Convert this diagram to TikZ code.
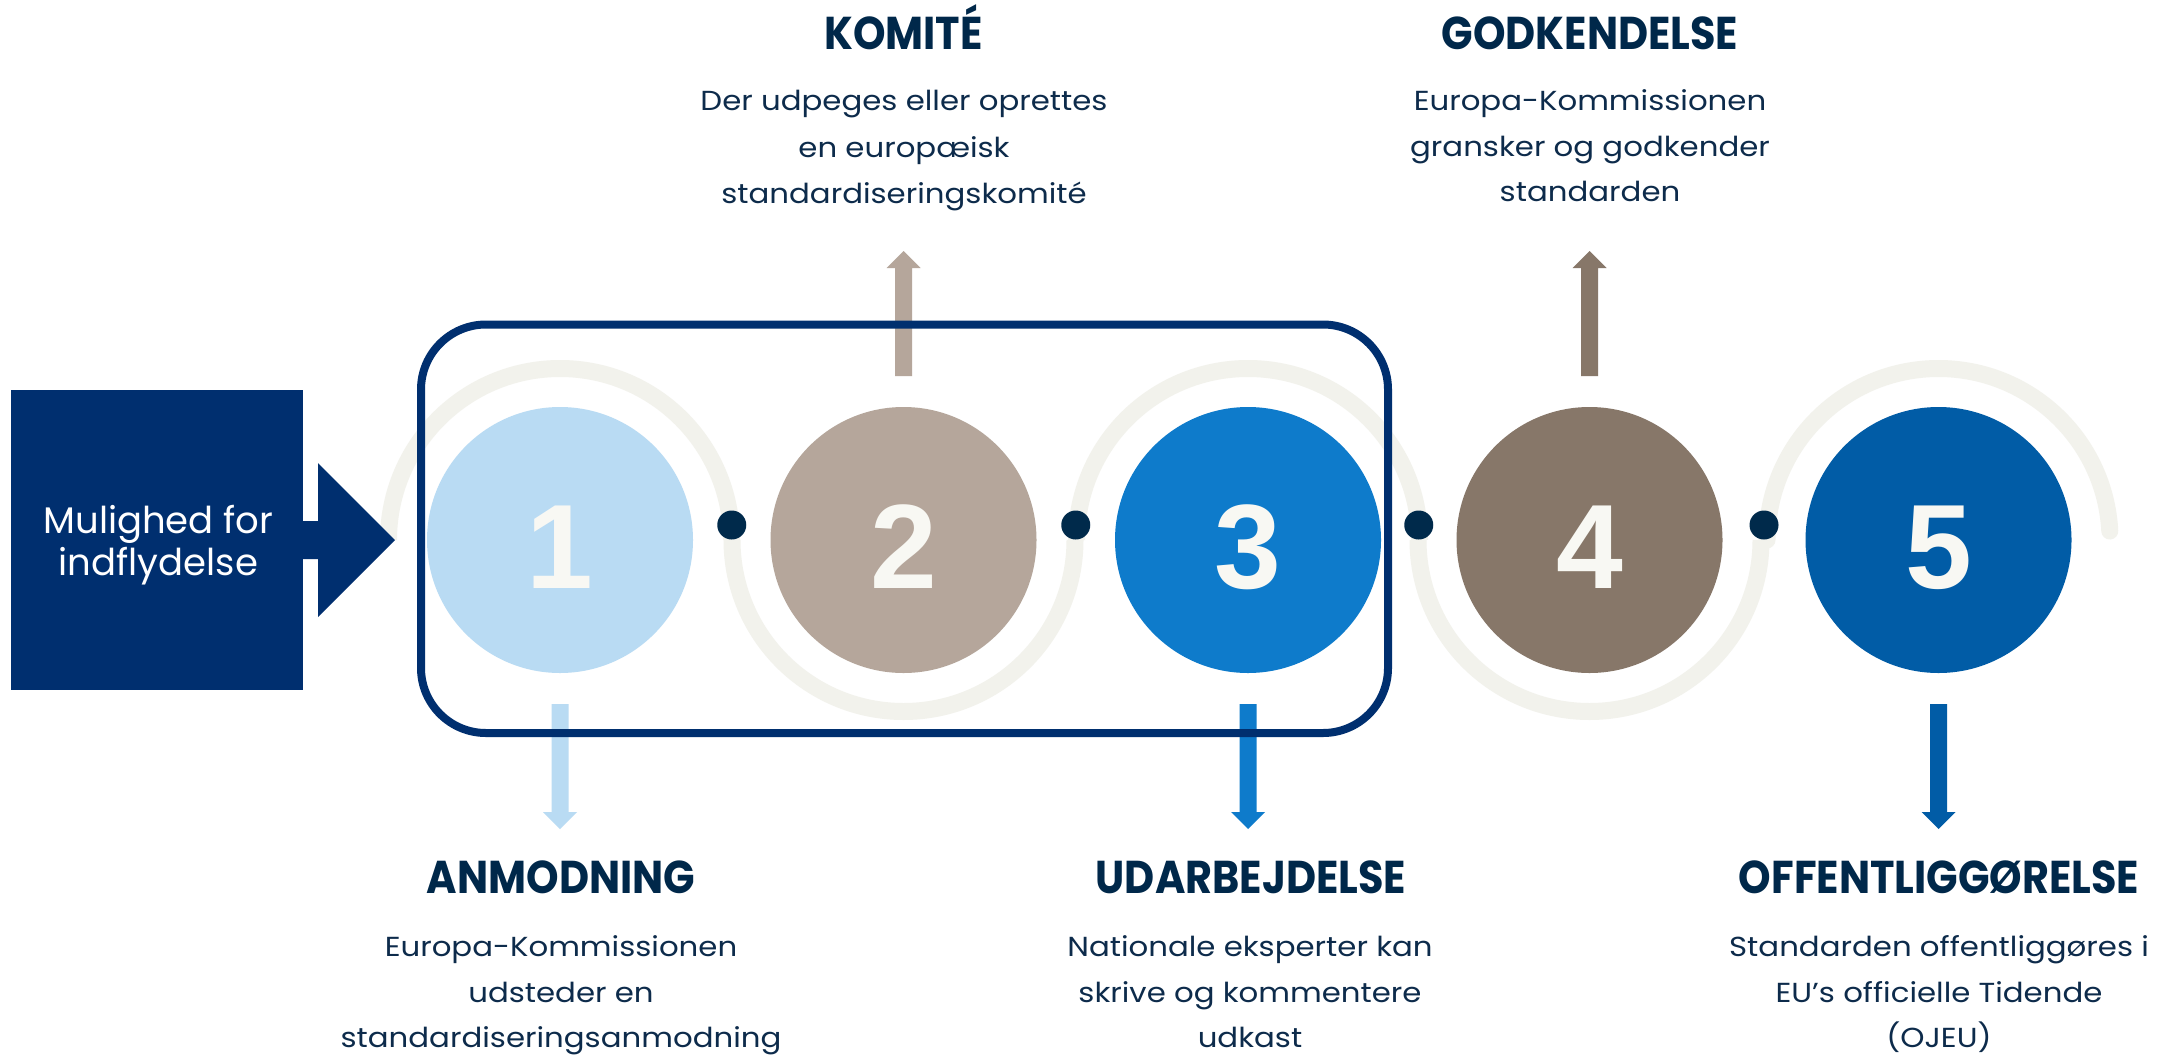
\documentclass[tikz,border=0pt]{standalone}
\usepackage{fontspec}
\setmainfont{Poppins}
\newfontfamily\bodyfont{Poppins}[FakeStretch=1.12]
\newfontfamily\headfont{Poppins}[FakeStretch=0.9]
\newfontfamily\digitfont{Liberation Sans}
\definecolor{navy}{HTML}{002F6F}
\definecolor{ringc}{HTML}{F2F2EC}
\definecolor{dotcol}{HTML}{002A4B}
\definecolor{headc}{HTML}{00284A}
\definecolor{bodyc}{HTML}{0D2B4B}
\definecolor{digitc}{HTML}{F8F8F3}
\definecolor{ca}{HTML}{B9DBF3}
\definecolor{cb}{HTML}{B5A69B}
\definecolor{cc}{HTML}{0E7BCB}
\definecolor{cd}{HTML}{877769}
\definecolor{ce}{HTML}{015CA6}
\newcommand\myuparrow[2]{\fill[#1] (#2,376) ++(-8.5,0) -- ++(0,-108) -- ++(-8.5,0) -- ++(17,-17) -- ++(17,17) -- ++(-8.5,0) -- ++(0,108) -- cycle;}
\newcommand\mydownarrow[2]{\fill[#1] (#2,704) ++(-8.5,0) -- ++(0,108) -- ++(-8.5,0) -- ++(17,17) -- ++(17,-17) -- ++(-8.5,0) -- ++(0,-108) -- cycle;}
\begin{document}
\begin{tikzpicture}[x=1pt,y=-1pt,
  ring/.style={draw=ringc,line width=17pt},
  stepcirc/.style={circle,minimum size=266pt,inner sep=0pt},
  digit/.style={text=digitc,font=\digitfont\bfseries\fontsize{120}{120}\selectfont,anchor=base,inner sep=0pt},
  head/.style={text=headc,font=\headfont\bfseries\fontsize{46}{46}\selectfont,anchor=base,inner sep=0pt},
  body/.style={text=bodyc,font=\bodyfont\fontsize{27.5}{27.5}\selectfont,anchor=base,inner sep=0pt},
  boxtext/.style={text=white,font=\fontsize{37}{37}\selectfont,anchor=base,inner sep=0pt},
  junction/.style={circle,fill=dotcol,minimum size=29pt,inner sep=0pt},
]
\useasboundingbox (0,0) rectangle (2159,1055);
\fill[white] (0,0) rectangle (2159,1055);

% rings
\draw[ring] (388.5,540) arc[start angle=180,end angle=0,radius=171.5pt];
\draw[ring] (732,540) arc[start angle=180,end angle=360,radius=171.5pt];
\draw[ring] (1076.5,540) arc[start angle=180,end angle=0,radius=171.5pt];
\draw[ring] (1418,540) arc[start angle=180,end angle=360,radius=171.5pt];
\draw[ring,line cap=round] (1767,540) arc[start angle=180,end angle=3,radius=171.5pt];

% vertical arrows
\myuparrow{cb}{903.5}
\myuparrow{cd}{1589.5}
\mydownarrow{ca}{560}
\mydownarrow{cc}{1248}
\mydownarrow{ce}{1938.5}

% grouping frame
\draw[navy,line width=8pt,rounded corners=65pt] (421,324.5) rectangle (1388,733);

% left box with arrow
\node[fill=navy,minimum width=292pt,minimum height=300pt,inner sep=0pt,anchor=north west] (mbox) at (11,390) {};
\fill[navy] (300,521) -- (318,521) -- (318,463) -- (395,540) -- (318,617) -- (318,559) -- (300,559) -- cycle;
\node[boxtext] (mb1) at (158.5,533) {Mulighed for};
\node[boxtext] (mb2) at (158.5,575) {indflydelse};

% circles
\node[stepcirc,fill=ca] (s1) at (560,540) {};
\node[stepcirc,fill=cb] (s2) at (903.5,540) {};
\node[stepcirc,fill=cc] (s3) at (1248,540) {};
\node[stepcirc,fill=cd] (s4) at (1589.5,540) {};
\node[stepcirc,fill=ce] (s5) at (1938.5,540) {};
\node[digit] (d1) at (560,588) {1};
\node[digit] (d2) at (903.5,588) {2};
\node[digit] (d3) at (1248,588) {3};
\node[digit] (d4) at (1589.5,588) {4};
\node[digit] (d5) at (1938.5,588) {5};

% junction dots
\node[junction] (j1) at (731.75,525) {};
\node[junction] (j2) at (1075.75,525) {};
\node[junction] (j3) at (1418.75,525) {};
\node[junction] (j4) at (1764,525) {};

% top texts
\node[head] (h2) at (903.5,49) {KOMITÉ};
\node[body] (b2a) at (904,110) {Der udpeges eller oprettes};
\node[body] (b2b) at (904,157) {en europæisk};
\node[body] (b2c) at (904,203) {standardiseringskomité};

\node[head] (h4) at (1590,49) {GODKENDELSE};
\node[body] (b4a) at (1590,110) {Europa-Kommissionen};
\node[body] (b4b) at (1590,156) {gransker og godkender};
\node[body] (b4c) at (1590,201) {standarden};

% bottom texts
\node[head] (h1) at (561,893) {ANMODNING};
\node[body] (b1a) at (561,956) {Europa-Kommissionen};
\node[body] (b1b) at (561,1002) {udsteder en};
\node[body] (b1c) at (561,1047) {standardiseringsanmodning};

\node[head] (h3) at (1251,893) {UDARBEJDELSE};
\node[body] (b3a) at (1250,956) {Nationale eksperter kan};
\node[body] (b3b) at (1250,1002) {skrive og kommentere};
\node[body] (b3c) at (1250,1047) {udkast};

\node[head] (h5) at (1939,893) {OFFENTLIGGØRELSE};
\node[body] (b5a) at (1939,956) {Standarden offentliggøres i};
\node[body] (b5b) at (1939,1002) {EU’s officielle Tidende};
\node[body] (b5c) at (1939,1047) {(OJEU)};
\end{tikzpicture}
\end{document}
